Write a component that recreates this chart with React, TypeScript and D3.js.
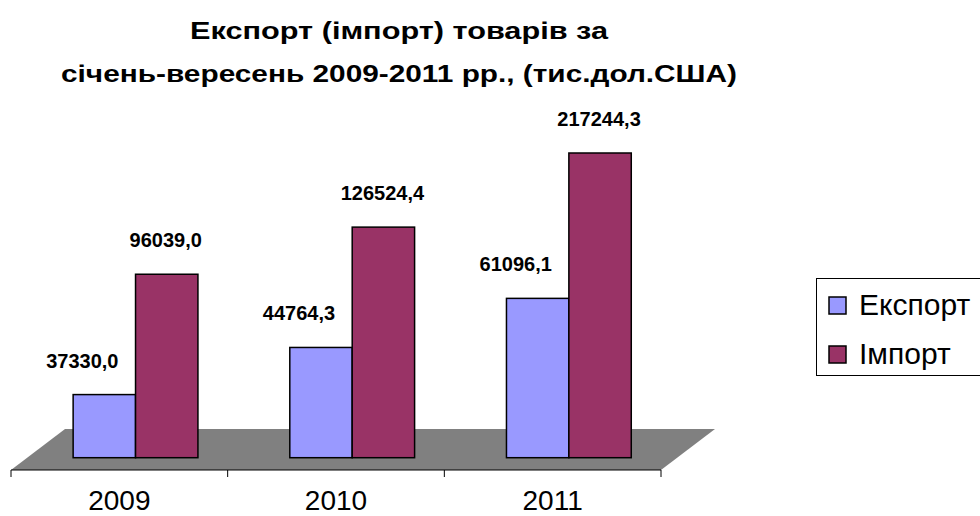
import React from "react";
import * as d3 from "d3";

// categories and series
const years = ["2009", "2010", "2011"];
const seriesNames = ["Експорт", "Імпорт"];
// values printed on the labels (тис.дол.США)
const exportLabels = [37330.0, 44764.3, 61096.1];
const importLabels = [96039.0, 126524.4, 217244.3];
// bar heights as drawn in the source picture (they do not follow the labels)
const exportBars = [45000, 78600, 113600];
const importBars = [130800, 164400, 217244.3];

const titleLines = [
  "Експорт (імпорт) товарів за",
  "січень-вересень 2009-2011 рр., (тис.дол.США)",
];

const colors = ["#9999FF", "#993366"];
const font = "Arial, 'Liberation Sans', sans-serif";

const fmt = (v: number) => v.toFixed(1).replace(".", ",");

export default function App() {
  const width = 980;
  const height = 516;

  // floor geometry (3d look)
  const floorY = 470;
  const depthX = 54;
  const depthY = -41;
  const barDepth = 0.3; // bars stand this far back on the floor

  const edge = d3.scaleLinear().domain([0, years.length]).range([11, 661]);
  const step = edge(1) - edge(0);

  const x = d3
    .scaleBand<string>()
    .domain(years)
    .range([edge(0), edge(years.length)])
    .paddingInner(0.424)
    .paddingOuter(0.212);

  const inner = d3
    .scaleBand<number>()
    .domain([0, 1])
    .range([0, x.bandwidth()]);

  const base = floorY + depthY * barDepth;
  const shiftX = depthX * barDepth;

  const y = d3
    .scaleLinear()
    .domain([0, d3.max(importBars) as number])
    .range([base, 153]);

  const bars = [exportBars, importBars];
  const labels = [exportLabels, importLabels];
  const labelDx = [-22, -1];

  const floorPts: [number, number][] = [
    [edge(0), floorY],
    [edge(years.length), floorY],
    [edge(years.length) + depthX, floorY + depthY],
    [edge(0) + depthX, floorY + depthY],
  ];

  // the title in the source is drawn wide
  const titleWidths = [418, 676];

  return (
    <div style={{ position: "absolute", left: 0, top: 0 }}>
      <svg width={width} height={height} style={{ display: "block", background: "#fff" }}>
        {/* title */}
        {titleLines.map((t, i) => (
          <text
            key={i}
            x={399}
            y={39 + i * 43}
            textAnchor="middle"
            fontFamily={font}
            fontWeight="bold"
            fontSize={24}
            textLength={titleWidths[i]}
            lengthAdjust="spacingAndGlyphs"
          >
            {t}
          </text>
        ))}

        {/* floor */}
        <path d={d3.line()(floorPts) + "Z"} fill="#808080" stroke="none" />

        {/* bars */}
        {years.map((yr, ci) => (
          <g key={yr}>
            {bars.map((s, si) => {
              const bx = (x(yr) as number) + inner(si)! + shiftX;
              return (
                <rect
                  key={si}
                  x={bx}
                  y={y(s[ci])}
                  width={inner.bandwidth()}
                  height={base - y(s[ci])}
                  fill={colors[si]}
                  stroke="#000"
                  strokeWidth={1.5}
                />
              );
            })}
          </g>
        ))}

        {/* data labels */}
        {years.map((yr, ci) =>
          bars.map((s, si) => {
            const cx = (x(yr) as number) + inner(si)! + inner.bandwidth() / 2 + shiftX + labelDx[si];
            return (
              <text
                key={yr + si}
                x={cx}
                y={y(s[ci]) - 27}
                textAnchor="middle"
                fontFamily={font}
                fontWeight="bold"
                fontSize={20}
              >
                {fmt(labels[si][ci])}
              </text>
            );
          })
        )}

        {/* category axis */}
        <line x1={edge(0)} x2={edge(years.length)} y1={floorY} y2={floorY} stroke="#000" strokeWidth={1} />
        {d3.range(years.length + 1).map((i) => (
          <line key={i} x1={edge(i)} x2={edge(i)} y1={floorY} y2={floorY + 7} stroke="#000" strokeWidth={1} />
        ))}
        {years.map((yr, i) => (
          <text
            key={yr}
            x={edge(i) + step / 2}
            y={510}
            textAnchor="middle"
            fontFamily={font}
            fontSize={28}
          >
            {yr}
          </text>
        ))}

        {/* legend */}
        <rect x={816.5} y={278.5} width={180} height={97} fill="#fff" stroke="#000" strokeWidth={1} />
        {seriesNames.map((n, i) => (
          <g key={n} transform={`translate(829, ${297 + i * 49})`}>
            <rect x={0} y={0} width={17} height={17} fill={colors[i]} stroke="#000" strokeWidth={1.5} />
            <text x={30} y={18} fontFamily={font} fontSize={30}>
              {n}
            </text>
          </g>
        ))}
      </svg>
    </div>
  );
}
